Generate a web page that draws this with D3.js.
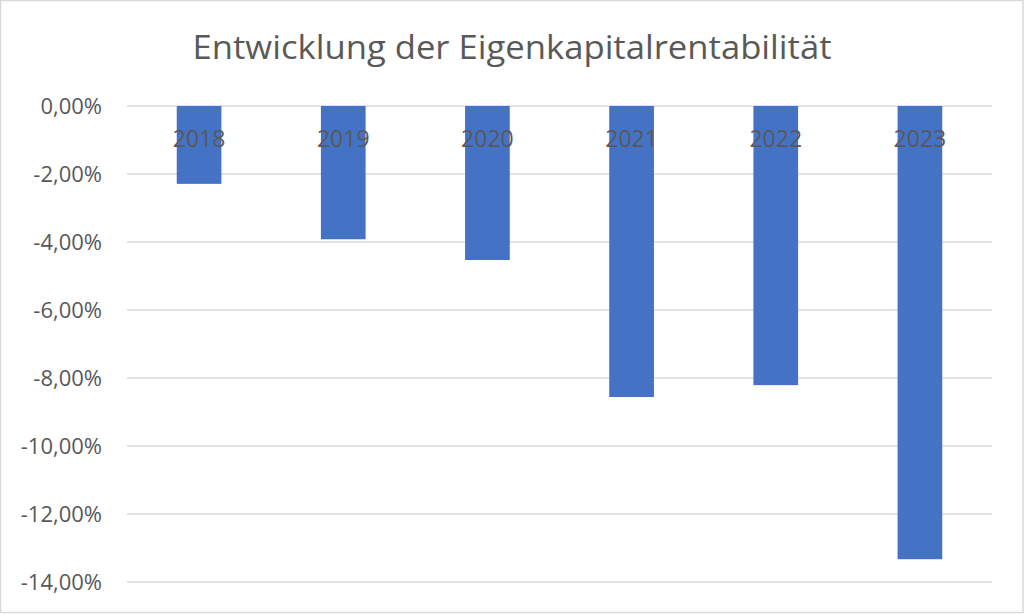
<!DOCTYPE html>
<html><head><meta charset="utf-8">
<script src="https://cdn.jsdelivr.net/npm/d3@7"></script>
<style>body{margin:0;background:#fff}svg{display:block}</style>
</head><body>
<script>
const title = "Entwicklung der Eigenkapitalrentabilität";
const years = ["2018","2019","2020","2021","2022","2023"];
const values = [-2.29, -3.92, -4.53, -8.56, -8.21, -13.33];
const yTicks = [0, -2, -4, -6, -8, -10, -12, -14];

const W = 1024, H = 615;
const svg = d3.select("body").append("svg").attr("width", W).attr("height", H);
svg.append("rect").attr("x",0.5).attr("y",0.5).attr("width",1022.5).attr("height",612)
  .attr("fill","#fff").attr("stroke","#d9d9d9").attr("stroke-width",1.5);

const x = d3.scaleBand().domain(years).range([127, 992]).paddingInner(0.69).paddingOuter(0.345);
const y = d3.scaleLinear().domain([-14, 0]).range([582, 106]);
const font = "'Open Sans', 'Liberation Sans', sans-serif";
const gray = "#595959";

svg.append("text").attr("x", 512).attr("y", 59).attr("text-anchor","middle")
  .attr("font-family", font).attr("font-size", 32.5).attr("fill", gray)
  .attr("textLength", 639).attr("lengthAdjust","spacingAndGlyphs").text(title);

const g = svg.append("g");
g.selectAll("line.grid").data(yTicks).join("line").attr("class","grid")
  .attr("x1",127).attr("x2",992).attr("y1",d=>y(d)).attr("y2",d=>y(d))
  .attr("stroke","#d9d9d9").attr("stroke-width",1.5);

const fmt = d => d3.format(".2f")(d).replace("−","-").replace(".",",") + "%";
g.selectAll("text.ytick").data(yTicks).join("text").attr("class","ytick")
  .attr("x",102).attr("y",d=>y(d)).attr("dy","0.35em").attr("text-anchor","end")
  .attr("font-family",font).attr("font-size",22).attr("fill",gray).text(fmt);

g.selectAll("rect.bar").data(values).join("rect").attr("class","bar")
  .attr("x",(d,i)=>x(years[i])).attr("width",x.bandwidth())
  .attr("y",d=>y(0)).attr("height",d=>y(d)-y(0)).attr("fill","#4472c4");

g.selectAll("text.cat").data(years).join("text").attr("class","cat")
  .attr("x",d=>x(d)+x.bandwidth()/2).attr("y",146.5).attr("text-anchor","middle")
  .attr("font-family",font).attr("font-size",23).attr("fill",gray).text(d=>d);
</script>
</body></html>
